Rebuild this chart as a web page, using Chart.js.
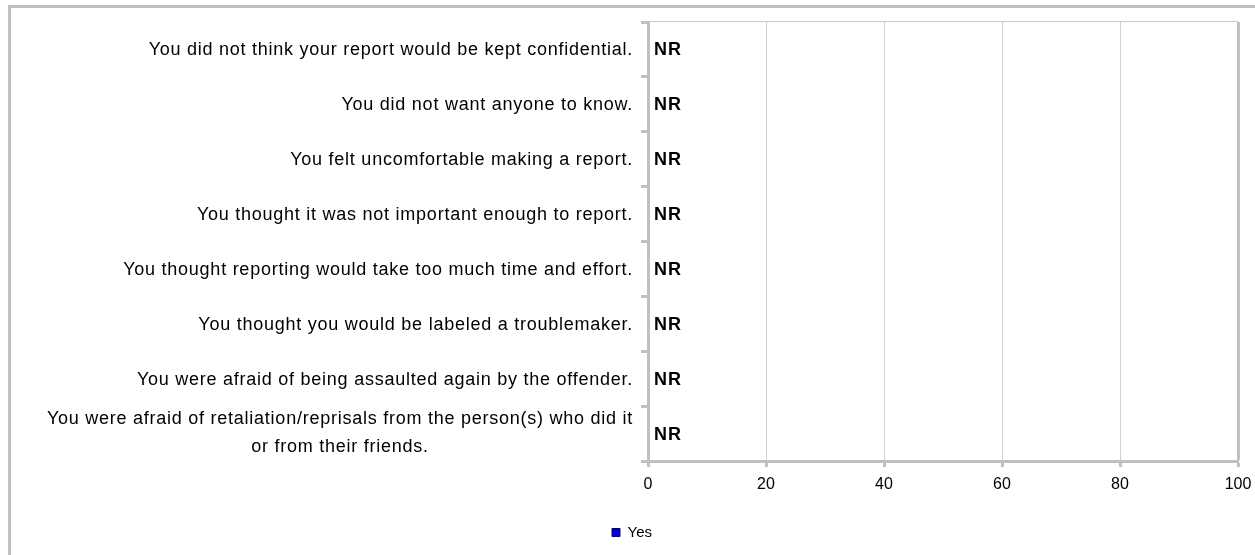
<!DOCTYPE html>
<html>
<head>
<meta charset="utf-8">
<script src="https://cdn.jsdelivr.net/npm/chart.js@4/dist/chart.umd.min.js"></script>
<style>
  html, body { margin: 0; padding: 0; background: #fff; }
  #wrap { width: 1255px; height: 555px; position: relative; }
</style>
</head>
<body>
<div id="wrap"><canvas id="myChart"></canvas></div>
<script>
// Reasons for not reporting (top to bottom)
const reasons = [
    'You did not think your report would be kept confidential.',
    'You did not want anyone to know.',
    'You felt uncomfortable making a report.',
    'You thought it was not important enough to report.',
    'You thought reporting would take too much time and effort.',
    'You thought you would be labeled a troublemaker.',
    'You were afraid of being assaulted again by the offender.',
    ['You were afraid of retaliation/reprisals from the person(s) who did it', 'or from their friends.']
];
// No reportable value for any reason -> NR
const yesValues = [null, null, null, null, null, null, null, null];
const valueLabels = ['NR', 'NR', 'NR', 'NR', 'NR', 'NR', 'NR', 'NR'];
const xTicks = [0, 20, 40, 60, 80, 100];

const GREY = '#c0c0c0';
const FONT = '"Liberation Sans", Arial, sans-serif';

// outer frame + thin top edge of the plot
const framePlugin = {
    id: 'frame',
    beforeDraw(chart) {
        const c = chart.ctx;
        c.save();
        c.fillStyle = GREY;
        c.fillRect(8, 5, chart.width - 8, 3);
        c.fillRect(8, 5, 3, chart.height - 5);
        const a = chart.chartArea;
        c.fillStyle = '#c8c8c8';
        c.fillRect(a.left, a.top - 1, a.right - a.left, 1);
        c.restore();
    }
};

// category labels (multi-line blocks are centred on their widest line) and NR text
const labelPlugin = {
    id: 'labels',
    afterDatasetsDraw(chart) {
        const c = chart.ctx;
        const xs = chart.scales.x, ys = chart.scales.y;
        const right = ys.right - 15;
        const lineH = 28;
        c.save();
        c.fillStyle = '#000';
        c.textBaseline = 'middle';
        c.font = '18px ' + FONT;
        c.letterSpacing = '0.75px';
        reasons.forEach((lab, i) => {
            const y = ys.getPixelForValue(i) + 1;
            const lines = Array.isArray(lab) ? lab : [lab];
            const widest = Math.max(...lines.map(l => c.measureText(l).width));
            const cx = right - widest / 2;
            const y0 = y - (lines.length - 1) * lineH / 2 - (lines.length > 1 ? 2 : 0);
            c.textAlign = 'center';
            lines.forEach((l, k) => c.fillText(l, cx, y0 + k * lineH));
        });

        c.font = 'bold 18px ' + FONT;
        c.letterSpacing = '1px';
        c.textAlign = 'left';
        valueLabels.forEach((txt, i) => {
            const v = yesValues[i] == null ? 0 : yesValues[i];
            c.fillText(txt, xs.getPixelForValue(v) + 6, ys.getPixelForValue(i) + 1);
        });
        c.restore();
    }
};

const ctx = document.getElementById('myChart').getContext('2d');
const myChart = new Chart(ctx, {
    type: 'bar',
    data: {
        labels: reasons,
        datasets: [{
            label: 'Yes',
            data: yesValues,
            backgroundColor: '#0000cc',
            borderColor: '#000080',
            borderWidth: 1
        }]
    },
    options: {
        indexAxis: 'y',
        responsive: true,
        maintainAspectRatio: false,
        animation: false,
        layout: { padding: { top: 22, right: 17, bottom: 5, left: 26 } },
        plugins: {
            legend: {
                position: 'bottom',
                labels: {
                    boxWidth: 8,
                    boxHeight: 8,
                    padding: 10,
                    color: '#000',
                    font: { family: FONT, size: 15 }
                }
            },
            tooltip: { enabled: false }
        },
        scales: {
            x: {
                min: 0,
                max: 100,
                afterBuildTicks: s => { s.ticks = xTicks.map(v => ({ value: v })); },
                afterFit: s => { s.height = 54; s.paddingLeft = 0; s.paddingRight = 0; },
                ticks: {
                    color: '#000',
                    padding: 8,
                    maxRotation: 0,
                    font: { family: FONT, size: 16 }
                },
                grid: {
                    color: c => c.tick && c.tick.value === 100 ? GREY : (c.tick && c.tick.value === 0 ? 'rgba(0,0,0,0)' : '#d0d0d0'),
                    lineWidth: c => c.tick && c.tick.value === 100 ? 3 : 1,
                    tickColor: GREY,
                    tickWidth: 3,
                    tickLength: 6
                },
                border: { color: GREY, width: 3 }
            },
            y: {
                afterFit: s => { s.width = 622; },
                ticks: { display: false },
                grid: {
                    offset: true,
                    drawOnChartArea: false,
                    tickColor: GREY,
                    tickWidth: 3,
                    tickLength: 7
                },
                border: { color: GREY, width: 3 }
            }
        }
    },
    plugins: [framePlugin, labelPlugin]
});
</script>
</body>
</html>
